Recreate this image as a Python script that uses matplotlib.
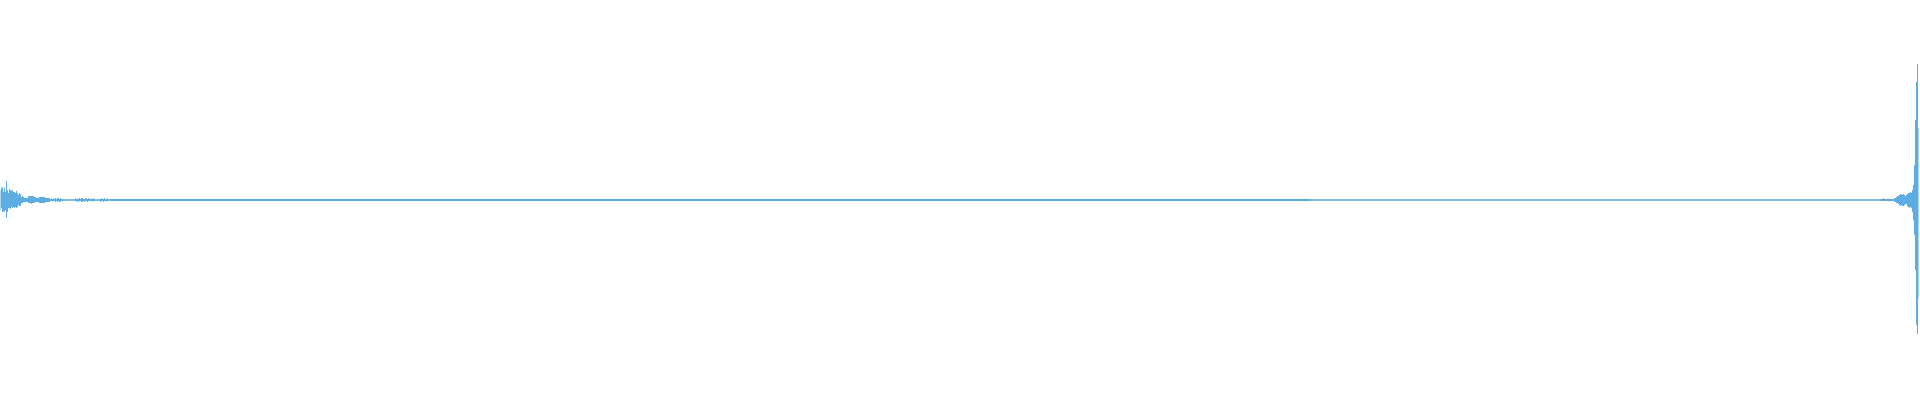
import numpy as np
import matplotlib
matplotlib.use("Agg")
import matplotlib.pyplot as plt

plt.rcParams["path.simplify"] = False

# Waveform envelope, amplitude in thousandths of full scale (per sample column)
start_up = [50,60,65,40,60,40,95,50,35,55,50,45,50,40,40,35,45,35,25,35,30,15,20,15,10,10,10,10,20,20,
            20,20,20,20,15,15,10,10,10,15,15,15,15,15,15,10,10,10,10,10,
            5,8,5,8,5, 10,5,10,10,5,10,5,5, 4,4,4,4,4,4,4,4,4,4,4,4, 8,5,8,
            5,10,5,10,10,5,5,10,5,5,10,5, 5,8,5,8,5, 4,4,4,4,4, 5,10,5,5,10,5,5,8, 4,4]
start_dn = [50,40,60,55,60,50,90,60,40,40,45,35,40,35,40,35,40,35,25,30,30,15,15,10,10,10,10,10,15,15,
            15,20,15,15,15,10,10,10,10,15,15,15,15,15,15,10,10,10,10,10,
            5,5,8,5,5, 10,5,10,5,10,10,5,5, 4,4,4,4,4,4,4,4,4,4,4,4, 5,8,5,
            10,5,5,10,10,5,10,5,5,10,5,5, 5,5,8,5,5, 4,4,4,4,4, 10,5,5,10,5,5,8,5, 4,4]

# quiet middle section: one amplitude per block of samples
mid_amp = [5,5,5,5,5,5,5,5,5,5,5,5,5,5,5,5,5,5,5,5,5,5,5,
           5,5,5,5,5,5,5,5,5,5,5,5,5,5,5,5,5,
           4,4,4,4,4,4,4,4,4,4,4,4,4,4,4,4,4,4,4]
mid_block = 30

end_up = [5,5,5,10,5,5,5,5,5,8,5,5,5,
          5,10,10,15,20,20,25,30,30,25,30,25,20,25,30,35,35,40,35,50,75,175,400,590,680,360]
end_dn = [5,5,5,5,5,5,5,5,5,8,5,5,5,
          5,10,10,15,15,20,25,30,25,30,30,25,20,20,30,35,40,35,40,60,100,175,350,625,670,490]

mid = np.repeat(np.array(mid_amp, float), mid_block)
up = np.concatenate([start_up, mid, end_up]) / 1000.0
dn = np.concatenate([start_dn, mid, end_dn]) / 1000.0
n = len(up)
idx = np.arange(n)

color = "#5DADE2"
fig = plt.figure(figsize=(19.2, 4), dpi=100)
ax = fig.add_axes([0, 0, 1, 1])
ax.fill_between(idx, -dn, up, step="mid", facecolor=color, edgecolor="none", lw=0)
ax.set_xlim(-0.5, 1919.5)
ax.set_ylim(-1, 1)
ax.axis("off")
fig.savefig("out.png", dpi=100, facecolor="white")
